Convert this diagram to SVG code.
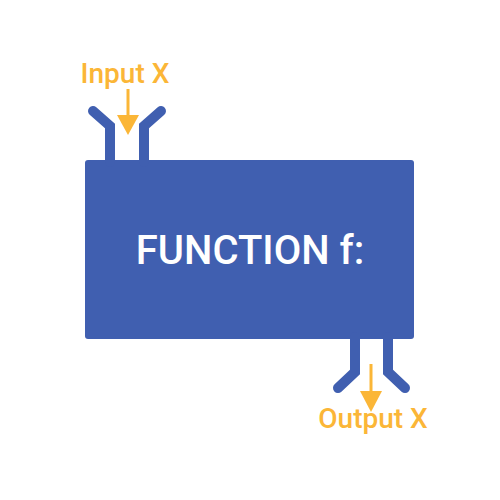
<svg xmlns="http://www.w3.org/2000/svg" width="500" height="500" viewBox="0 0 500 500">
<defs>
<style>
.pipe{fill:none;stroke:#405fb0;stroke-width:10;stroke-linecap:round;stroke-linejoin:miter}
.arr{fill:none;stroke:#fbb637;stroke-width:3}
.lbl{font-family:Roboto,"Liberation Sans",sans-serif;font-size:28px;font-weight:500;fill:#fbb637;text-anchor:middle}
.title{font-family:Roboto,"Liberation Sans",sans-serif;font-size:40px;font-weight:500;fill:#ffffff;text-anchor:middle}
</style>
</defs>
<g id="function">
<rect x="85" y="160" width="329" height="179" rx="3" fill="#405fb0"/>
<text class="title" x="250" y="264">FUNCTION f:</text>
</g>
<g id="input">
<path class="pipe" d="M93,111 L110,126 L110,162"/>
<path class="pipe" d="M161,111 L144,126 L144,162"/>
<text class="lbl" x="125" y="83">Input X</text>
</g>
<g id="output">
<path class="pipe" d="M355,337 L355,372 L338,388"/>
<path class="pipe" d="M388,337 L388,372 L405,388"/>
<text class="lbl" x="373" y="428">Output X</text>
</g>
<g id="connectors">
<line class="arr" x1="128" y1="89" x2="128" y2="115"/>
<path d="M117,115 L139,115 L128,135 Z" fill="#fbb637"/>
<line class="arr" x1="371" y1="364" x2="371" y2="391"/>
<path d="M360,391 L382,391 L371,412 Z" fill="#fbb637"/>
</g>
</svg>
